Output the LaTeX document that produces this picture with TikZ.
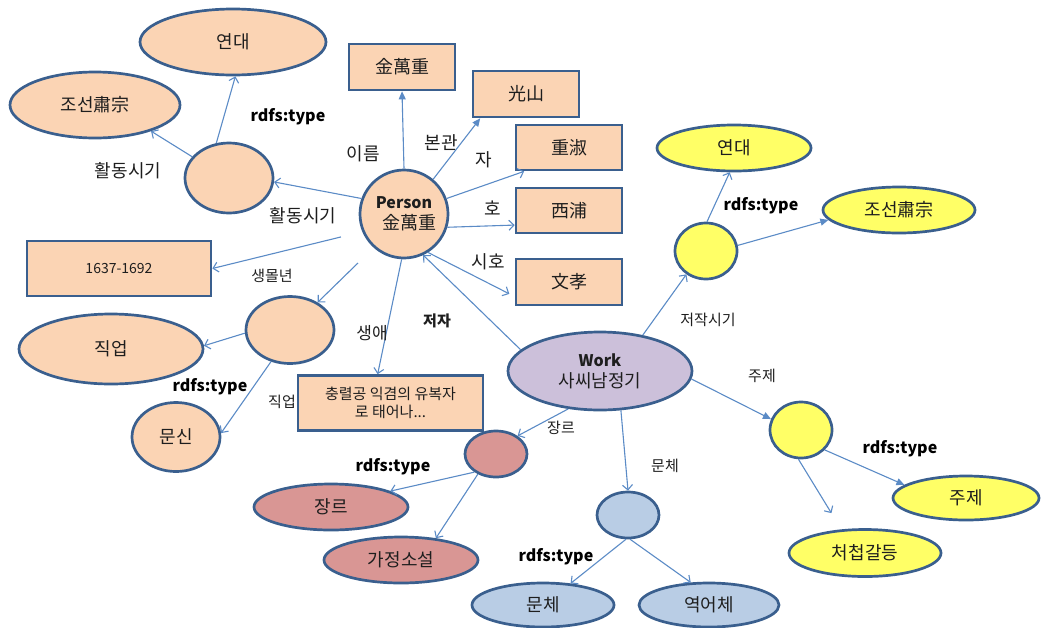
\documentclass[tikz,border=0pt]{standalone}
\usepackage{fontspec}
\setmainfont{Noto Sans CJK KR}
\usetikzlibrary{shapes.geometric,arrows.meta,calc}
\definecolor{bordc}{HTML}{3A5F8E}
\definecolor{edgec}{HTML}{5B8BC6}
\definecolor{orf}{HTML}{FBD4B4}
\definecolor{purf}{HTML}{CCC0DA}
\definecolor{redf}{HTML}{D99694}
\definecolor{bluf}{HTML}{B9CDE5}
\definecolor{yelf}{HTML}{FFFF66}
\definecolor{txt}{HTML}{1E1E1E}
\tikzset{
  base/.style={draw=bordc, line width=2.7pt, inner sep=0pt, text=txt, font=\fontsize{18}{20}\selectfont},
  ell/.style={base, ellipse},
  box/.style={base, rectangle},
  edge/.style={draw=edgec, line width=1.1pt, -{Straight Barb[length=5pt,width=10pt,line width=1.1pt]}},
  fedge/.style={draw=edgec, line width=1.1pt, -{Triangle[length=8pt,width=7pt]}},
  lab/.style={font=\fontsize{18}{20}\selectfont, inner sep=0pt, text=txt},
  slab/.style={font=\fontsize{15}{17}\selectfont, inner sep=0pt, text=txt},
  rdfs/.style={font=\bfseries\fontsize{16}{18}\selectfont, inner sep=0pt, text=black},
}
\begin{document}
\begin{tikzpicture}[x=1pt,y=-1pt]
\useasboundingbox (0,0) rectangle (1043,627);
% orange group
\node[ell, fill=orf, minimum width=186, minimum height=66] (oYeon) at (233,42) {연대};
\node[ell, fill=orf, minimum width=170, minimum height=66] (oJoseon) at (95,105) {조선肅宗};
\node[ell, fill=orf, minimum width=88, minimum height=70] (oA) at (229,178) {};
\node[box, fill=orf, minimum width=184, minimum height=55, font=\fontsize{14}{16}\selectfont] (r1637) at (119,268.5) {1637-1692};
\node[ell, fill=orf, minimum width=184, minimum height=70] (oJik) at (111,349) {직업};
\node[ell, fill=orf, minimum width=88, minimum height=67] (oB) at (290,330) {};
\node[ell, fill=orf, minimum width=88, minimum height=69] (oMun) at (176,437) {문신};
\node[box, fill=orf, minimum width=106, minimum height=46] (rKim) at (402,67) {金萬重};
\node[box, fill=orf, minimum width=106, minimum height=46] (rGwang) at (526,94) {光山};
\node[box, fill=orf, minimum width=106, minimum height=45] (rJung) at (569,147.5) {重淑};
\node[box, fill=orf, minimum width=106, minimum height=45] (rSeo) at (569,210.5) {西浦};
\node[box, fill=orf, minimum width=106, minimum height=46] (rMun) at (569,282) {文孝};
\node[circle, base, fill=orf, minimum size=88, align=center] (Person) at (404,214)
  {{\bfseries\fontsize{16}{18}\selectfont Person}\\[1pt]\hspace*{10pt}金萬重};
\node[box, fill=orf, minimum width=185, minimum height=55, align=center, font=\fontsize{15}{18}\selectfont] (rChung) at (390.5,403)
  {충렬공 익겸의 유복자\\로 태어나...};
% work
\node[ell, fill=purf, minimum width=184, minimum height=78, align=center] (Work) at (600,371)
  {{\bfseries\fontsize{16}{18}\selectfont Work}\\[1pt]사씨남정기};
% red group
\node[ell, fill=redf, minimum width=62, minimum height=46] (rBlank) at (496,454) {};
\node[ell, fill=redf, minimum width=154, minimum height=46] (rJang) at (331,507) {장르};
\node[ell, fill=redf, minimum width=154, minimum height=46] (rGa) at (401,560) {가정소설};
% blue group
\node[ell, fill=bluf, minimum width=62, minimum height=46] (bBlank) at (628,515) {};
\node[ell, fill=bluf, minimum width=142, minimum height=44] (bMun) at (543,605) {문체};
\node[ell, fill=bluf, minimum width=140, minimum height=44] (bYeok) at (709,605) {역어체};
% yellow group
\node[ell, fill=yelf, minimum width=62, minimum height=56] (yTop) at (706,251) {};
\node[ell, fill=yelf, minimum width=154, minimum height=46] (yYeon) at (734,148) {연대};
\node[ell, fill=yelf, minimum width=152, minimum height=46] (yJoseon) at (899,210) {조선肅宗};
\node[ell, fill=yelf, minimum width=62, minimum height=56] (yJu) at (801,430) {};
\node[ell, fill=yelf, minimum width=146, minimum height=44] (yJuEl) at (966,498) {주제};
\node[ell, fill=yelf, minimum width=152, minimum height=47] (yCheo) at (865,553) {처첩갈등};
% edges
\draw[edge] (oA.110) -- (oYeon.-86);
\draw[edge] (oA.150) -- (oJoseon.-25);
\draw[edge] (Person.160) -- (oA.-5);
\draw[edge, shorten <=22pt] (Person.203) -- (r1637.east);
\draw[edge, shorten <=22pt] (Person.228) -- (oB.45);
\draw[edge] (oB.184) -- (oJik.2);
\draw[edge] (oB.-121) -- (oMun.5);
\draw[edge] (Person.-93) -- (rChung.114);
\draw[fedge] (Person.north) -- (rKim.south);
\draw[fedge] (Person.50) -- (rGwang.208);
\draw[edge] (Person.20) -- (rJung.208);
\draw[edge] (Person.-17) -- (rSeo.195);
\draw[edge, shorten >=6pt] (Person.-58) -- (rMun.195);
\draw[edge] (Work.165) -- (Person.-65);
\draw[edge] (Work.40) -- (yTop.-130);
\draw[edge] (yTop.88) -- (yYeon.-100);
\draw[fedge] (yTop.10) -- (yJoseon.188);
\draw[fedge] (Work.-5) -- (yJu.160);
\draw[fedge] (yJu.-40) -- (yJuEl.168);
\draw[edge, shorten >=19pt] (yJu.-95) -- (yCheo.135);
\draw[edge] (Work.-130) -- (rBlank.40);
\draw[edge] (Work.-62) -- (bBlank.north);
\draw[edge] (rBlank.-140) -- (rJang.15);
\draw[edge] (rBlank.-132) -- (rGa.32);
\draw[edge] (bBlank.-95) -- (bMun.38);
\draw[edge] (bBlank.-85) -- (bYeok.129);
% labels
\node[rdfs] (t1) at (288,117) {rdfs:type};
\node[lab] (l1) at (128,171) {활동시기};
\node[lab] (l2) at (303,216) {활동시기};
\node[lab] (l3) at (363,154) {이름};
\node[lab] (l4) at (441,143) {본관};
\node[lab] (l5) at (484,160) {자};
\node[lab] (l6) at (493,208) {호};
\node[lab] (l7) at (488,262) {시호};
\node[slab] (l8) at (272,276) {생몰년};
\node[lab, font=\fontsize{17}{19}\selectfont] (l9) at (372,333) {생애};
\node[slab, font=\bfseries\fontsize{15}{17}\selectfont] (l10) at (437,321) {저자};
\node[rdfs] (t2) at (210,387) {rdfs:type};
\node[slab] (l11) at (282,402) {직업};
\node[rdfs] (t3) at (393,467) {rdfs:type};
\node[slab] (l12) at (561,428) {장르};
\node[slab] (l13) at (665,466) {문체};
\node[rdfs] (t4) at (556,557) {rdfs:type};
\node[slab] (l14) at (708,320) {저작시기};
\node[slab] (l15) at (762,376) {주제};
\node[rdfs] (t5) at (900,449) {rdfs:type};
\node[rdfs] (t6) at (761,206) {rdfs:type};
\end{tikzpicture}
\end{document}
